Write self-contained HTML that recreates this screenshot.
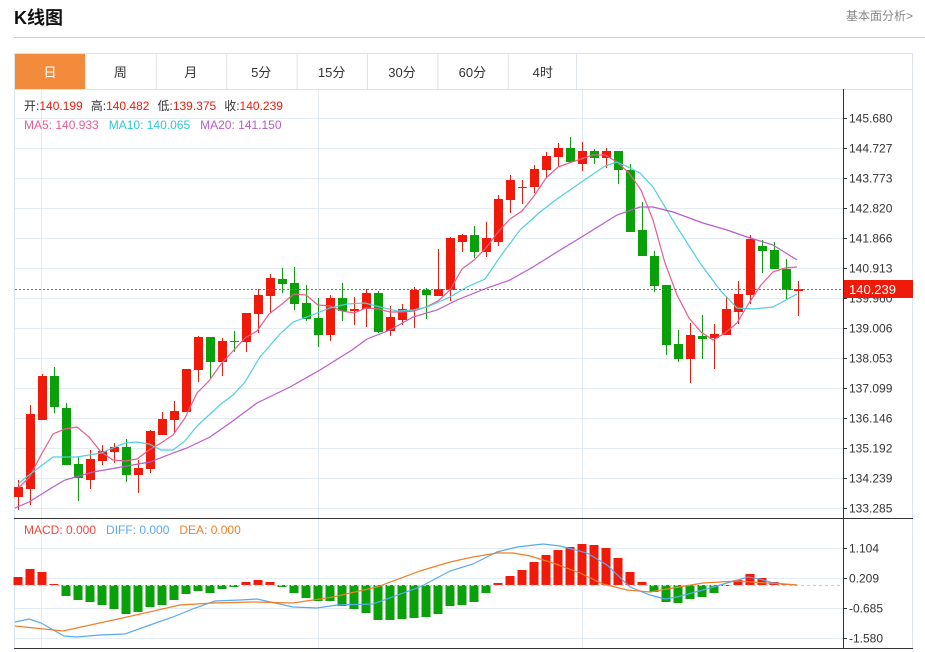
<!DOCTYPE html>
<html><head><meta charset="utf-8"><style>
body{margin:0;width:925px;height:652px;background:#fff;overflow:hidden;font-family:"Liberation Sans","Noto Sans CJK SC",sans-serif;}
svg{position:absolute;left:0;top:0}
</style></head><body>
<svg id="s" width="925" height="652" xmlns="http://www.w3.org/2000/svg" font-family="Liberation Sans, Noto Sans CJK SC, sans-serif"></svg>
<script>
var s=document.getElementById('s'),h='';
function L(x1,y1,x2,y2,c,w,d){h+='<line x1="'+x1+'" y1="'+y1+'" x2="'+x2+'" y2="'+y2+'" stroke="'+c+'" stroke-width="'+(w||1)+'"'+(d?' stroke-dasharray="'+d+'"':'')+'/>';}
function R(x,y,w,hh,c,st){h+='<rect x="'+x+'" y="'+y+'" width="'+w+'" height="'+hh+'" fill="'+c+'"'+(st?' stroke="'+st+'"':'')+'/>';}
function T(x,y,t,c,sz,ex){h+='<text x="'+x+'" y="'+y+'" fill="'+c+'" font-size="'+(sz||12)+'" '+(ex||'')+'>'+t+'</text>';}
// header
T(14,24,'K线图','#111',18,'font-weight="bold"');
T(913,20,'基本面分析&gt;','#888',12,'text-anchor="end"');
L(14,37.5,925,37.5,'#ccc',1);
// tabs
R(14.5,53.5,898,36,'#fff','#dde3ea');
R(15,54,70,35,'#f28b3b');
var tabs=['日','周','月','5分','15分','30分','60分','4时'];
for(var i=0;i<8;i++){var x=15+70.4*i;if(i>0)L(x+.5,54,x+.5,89,'#dde3ea');T(x+35,77,tabs[i],i==0?'#fff':'#333',13,'text-anchor="middle"');}
L(576.5,54,576.5,89,'#dde3ea');
// chart box
R(14.5,89.5,898,559,'#fff','#dde3ea');
// grids
for(var y=118;y<=508;y+=30)L(15,y+.5,843,y+.5,'#e3ebf3');
[548,578,608,638].forEach(function(y){L(15,y+.5,843,y+.5,'#e3ebf3');});
[41,318,582].forEach(function(x){L(x+.5,90,x+.5,648,'#e3ebf3');});
// axis
L(843.5,89,843.5,648,'#333');
L(14,518.5,913,518.5,'#333');L(14,648.5,913,648.5,'#333');
var ticks=['145.680','144.727','143.773','142.820','141.866','140.913','139.960','139.006','138.053','137.099','136.146','135.192','134.239','133.285'];
ticks.forEach(function(t,i){var y=118+30*i;L(843,y+.5,847,y+.5,'#333');T(849,y+4.5,t,'#333',12);});
[['1.104',548],['0.209',578],['-0.685',608],['-1.580',638]].forEach(function(a){L(843,a[1]+.5,847,a[1]+.5,'#333');T(849,a[1]+4.5,a[0],'#333',12);});
// candles [bodyTop,bodyBot,hi,lo,color r/g]
var C=[[487,497,480,510,'r'],[414,489,405,505,'r'],[376,420,374,420,'r'],[376,407,367,413,'g'],[408,465,403,465,'g'],[464,478,457,501,'g'],[459,480,450,489,'r'],[451,461,445,465,'r'],[447,452,443,463,'r'],[447,475,439,482,'g'],[468,475,460,493,'r'],[431,469,430,473,'r'],[419,435,412,435,'r'],[411,420,401,433,'r'],[369,412,369,412,'r'],[337,370,336,382,'r'],[337,362,337,378,'g'],[341,362,338,376,'r'],[341,342,331,352,'g'],[313,342,313,352,'r'],[295,314,289,333,'r'],[278,296,274,313,'r'],[279,284,268,293,'g'],
[283,304,267,310,'g'],[303,319,285,321,'g'],[318,335,298,347,'g'],[298,335,295,341,'r'],[298,311,283,321,'g'],[309,311,297,325,'r'],[293,309,289,327,'r'],[293,332,291,333,'g'],[317,331,306,336,'r'],[309,320,304,325,'r'],[290,310,287,328,'r'],[290,295,288,319,'g'],[289,296,249,296,'r'],[238,290,237,301,'r'],[235,242,234,252,'r'],[235,252,226,258,'g'],[238,252,222,257,'r'],[199,242,195,246,'r'],[180,200,175,213,'r'],[187,188,180,204,'r'],[169,187,165,193,'r'],[156,170,152,177,'r'],[148,157,143,167,'r'],
[148,162,137,163,'g'],[151,164,142,171,'r'],[151,158,149,164,'g'],[151,158,148,168,'r'],[151,170,151,184,'g'],[170,232,164,232,'g'],[230,256,202,256,'g'],[256,286,251,292,'g'],[285,345,285,355,'g'],[344,359,330,362,'g'],[335,359,323,383,'r'],[336,339,315,359,'g'],[334,338,324,369,'r'],[309,335,297,335,'r'],[294,312,281,324,'r'],[239,295,235,304,'r'],[246,251,240,273,'g'],[250,269,242,269,'g'],[269,290,259,299,'g'],[289,291,281,316,'r']];
C.forEach(function(c,i){var x=18+12*i,col=c[4]=='r'?'#f01a0a':'#0aa00a';L(x+.5,c[2],x+.5,c[3],col);R(x-4,c[0],9,Math.max(1,c[1]-c[0]),col);});
function P(pts,c){h+='<polyline fill="none" stroke="'+c+'" stroke-width="1.2" points="'+pts.map(function(p){return p.join(',')}).join(' ')+'"/>';}
P([[18,488],[29,478],[41,455],[53,434],[65,429],[77,427],[89,437],[101,452],[113,460],[125,461],[137,459],[149,450],[161,443],[173,435],[185,418],[197,393],[209,381],[221,364],[233,351],[245,338],[257,331],[269,314],[282,304],[294,294],[306,295],[318,305],[330,306],[342,311],[354,313],[366,308],[378,309],[390,312],[402,312],[414,311],[426,307],[438,301],[450,290],[462,269],[474,260],[486,248],[498,232],[510,219],[522,211],[534,196],[546,178],[558,167],[569,163],[581,159],[593,155],[605,155],[617,162],[629,173],[641,190],[653,220],[665,263],[677,295],[689,318],[701,332],[713,340],[725,333],[737,323],[749,303],[761,285],[773,272],[785,268],[797,267]],'#ec5b8c');
P([[18,484],[29,475],[41,466],[53,457],[65,457],[77,457],[89,455],[101,453],[113,448],[125,443],[137,442],[149,444],[161,450],[173,450],[185,441],[197,426],[209,415],[221,404],[233,395],[245,382],[260,357],[280,334],[293,322],[307,317],[330,308],[347,304],[365,303],[380,307],[397,311],[413,310],[427,307],[450,297],[467,287],[485,279],[500,257],[520,230],[540,212],[557,199],[580,183],[605,166],[617,162],[630,168],[640,173],[653,187],[677,227],[700,263],[720,290],[737,308],[753,309],[773,307],[797,294]],'#4fd0e0');
P([[15,508],[29,502],[53,487],[65,480],[93,472],[127,466],[150,462],[173,453],[187,448],[210,437],[230,423],[257,403],[290,387],[320,370],[352,350],[367,339],[390,330],[413,317],[437,310],[457,300],[487,288],[510,280],[533,267],[557,252],[580,238],[617,215],[640,207],[653,207],[673,212],[703,223],[727,230],[747,237],[773,245],[797,260]],'#b95bcb');
// price line
L(15,289.5,843,289.5,'#f03c3c',1,'2,2');
R(844,280,69,18,'#f01a0a');T(849,294,'140.239','#fff',13);
// info
h+='<text x="24" y="110" font-size="12"><tspan fill="#333">开:</tspan><tspan fill="#f01a0a">140.199</tspan><tspan fill="#333" dx="8">高:</tspan><tspan fill="#f01a0a">140.482</tspan><tspan fill="#333" dx="8">低:</tspan><tspan fill="#f01a0a">139.375</tspan><tspan fill="#333" dx="8">收:</tspan><tspan fill="#f01a0a">140.239</tspan></text>';
h+='<text x="24" y="129" font-size="12"><tspan fill="#ec5b8c">MA5: 140.933</tspan><tspan fill="#2ec6dc" dx="10">MA10: 140.065</tspan><tspan fill="#b95bcb" dx="10">MA20: 141.150</tspan></text>';
h+='<text x="24" y="534" font-size="12"><tspan fill="#f5483b">MACD: 0.000</tspan><tspan fill="#5aa9f0" dx="10">DIFF: 0.000</tspan><tspan fill="#f07f2a" dx="10">DEA: 0.000</tspan></text>';
// macd
var M=[577,569,572,584,596,600,602,605,609,614,612,607,605,600,594,591,593,589,587,582,580,582,587,593,598,601,601,606,609,613,620,620,619,618,617,614,606,605,602,593,583,576,570,562,555,550,547,544,545,548,558,572,582,592,602,603,599,597,593,586,580,574,578,582,584,585];
M.forEach(function(v,i){var x=18+12*i,z=585;if(v<z)R(x-4.5,v,9,z-v,'#f01a0a');else if(v>z)R(x-4.5,z,9,v-z,'#0aa00a');});
L(15,585.5,843,585.5,'#a8d8f0',1.2,'3,3');
P([[15,622],[29,619],[41,623],[64,636],[77,637],[100,635],[125,634],[150,625],[173,617],[195,608],[215,601],[240,600],[257,599],[293,607],[317,608],[337,605],[373,604],[420,587],[450,571],[473,564],[497,552],[517,547],[543,544],[560,546],[587,553],[607,565],[630,587],[650,595],[665,599],[677,597],[703,590],[727,583],[748,577],[760,579],[773,583],[797,585]],'#5aa9f0');
P([[15,626],[63,631],[127,617],[180,605],[213,603],[253,602],[293,603],[333,597],[377,587],[420,571],[450,562],[473,557],[497,553],[513,553],[530,556],[553,563],[580,573],[603,584],[627,590],[650,592],[673,588],[703,583],[737,581],[767,583],[797,585]],'#f07f2a');
s.innerHTML=h;
</script>
</body></html>
